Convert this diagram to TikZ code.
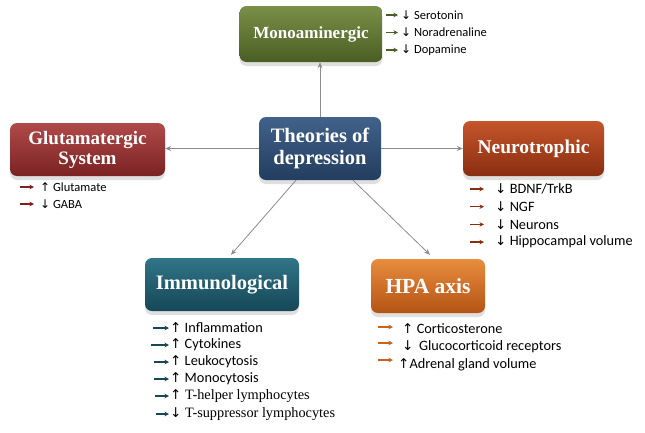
\documentclass[tikz,border=0pt]{standalone}
\usepackage{fontspec}
\setmainfont{Carlito}
\newfontfamily\titlefont{Liberation Serif}
\newfontfamily\symfont{DejaVu Sans}
\usetikzlibrary{arrows.meta,shadows}
\definecolor{monoT}{HTML}{7A8F47}\definecolor{monoB}{HTML}{4A5E24}
\definecolor{glutT}{HTML}{B04A4A}\definecolor{glutB}{HTML}{7A2222}
\definecolor{theoT}{HTML}{42628A}\definecolor{theoB}{HTML}{223D5E}
\definecolor{neurT}{HTML}{C4552C}\definecolor{neurB}{HTML}{8A2E10}
\definecolor{immT}{HTML}{307588}\definecolor{immB}{HTML}{164756}
\definecolor{hpaT}{HTML}{E88D3E}\definecolor{hpaB}{HTML}{B45314}
\definecolor{conn}{HTML}{8C8C8C}
\newcommand{\tf}[1]{\titlefont\bfseries\fontsize{#1}{#1}\selectfont}
\tikzset{
  theory/.style={rounded corners=7pt, text=white, align=center,
    font=\tf{17},
    drop shadow={shadow xshift=0pt, shadow yshift=-4pt, opacity=0.25}},
  link/.style={draw=conn, line width=0.8pt, -{Stealth[length=6pt,width=5pt]}},
  item/.style={anchor=west, inner sep=0pt, font=\fontsize{12.5}{14}\selectfont, text=black},
  bigitem/.style={item, font=\fontsize{14.3}{16}\selectfont},
  itemserif/.style={item, font=\titlefont\fontsize{14.3}{16}\selectfont},
  bullet/.style={line width=1.4pt, -{Stealth[length=4.5pt,width=4.5pt]}},
}
\newcommand{\dn}{{\symfont\fontsize{12}{12}\selectfont ↓}}
\newcommand{\up}{{\symfont\fontsize{12}{12}\selectfont ↑}}
\newcommand{\Dn}{{\symfont\fontsize{13.5}{12}\selectfont ↓}}
\newcommand{\Up}{{\symfont\fontsize{13.5}{12}\selectfont ↑}}
\begin{document}
\begin{tikzpicture}[x=1pt,y=-1pt]
\useasboundingbox (0,0) rectangle (645,432);
% boxes
\node[theory, top color=monoT, bottom color=monoB, minimum width=143pt, minimum height=56pt] (mono) at (311,34) {Monoaminergic};
\node[theory, font=\tf{19}, top color=glutT, bottom color=glutB, minimum width=155pt, minimum height=53pt] (glut) at (87.5,149.5) {Glutamatergic\\[1pt]System};
\node[theory, font=\tf{20.5}, top color=theoT, bottom color=theoB, minimum width=122pt, minimum height=63pt] (theo) at (320,148.5) {Theories of\\[1pt]depression};
\node[theory, font=\tf{19.5}, top color=neurT, bottom color=neurB, minimum width=141pt, minimum height=55pt] (neur) at (533.5,148.5) {Neurotrophic};
\node[theory, font=\tf{20.5}, top color=immT, bottom color=immB, minimum width=154pt, minimum height=53pt] (imm) at (222,284.5) {Immunological};
\node[theory, font=\tf{21.5}, top color=hpaT, bottom color=hpaB, minimum width=114pt, minimum height=54pt] (hpa) at (428,286) {HPA axis};
% connectors
\draw[link] (theo.north) -- (theo.north |- mono.south);
\draw[link] (theo.west) -- (glut.east |- theo.west);
\draw[link] (theo.east) -- (neur.west |- theo.east);
\draw[link] ([xshift=-24pt]theo.south) -- ([xshift=9pt,yshift=3pt]imm.north);
\draw[link] ([xshift=33pt]theo.south) -- ([xshift=2pt,yshift=4pt]hpa.north);
% monoaminergic list
\foreach \t [count=\i] in {Serotonin,Noradrenaline,Dopamine}{
  \node[item] (m\i) at (401,{15+17.5*(\i-1)}) {\dn\ \t};
  \coordinate (ms\i) at (386,{15+17.5*(\i-1)});
  \draw[bullet, draw=monoB, fill=monoB] (ms\i) -- ++(12,0);
}
% glutamatergic list
\node[item] (g1) at (40,187) {\up\ Glutamate};
\node[item] (g2) at (40,204) {\dn\ GABA};
\foreach \i in {1,2}{
  \coordinate (gs\i) at (g\i.west);
  \draw[bullet, draw=glutB, fill=glutB] ([xshift=-20pt]gs\i) -- ([xshift=-6pt]gs\i);
}
% neurotrophic list
\foreach \t [count=\i] in {BDNF/TrkB,NGF,Neurons,Hippocampal volume}{
  \node[bigitem] (n\i) at (495,{189+17.7*(\i-1)}) {\Dn\ \t};
  \coordinate (ns\i) at (470,{189+17.7*(\i-1)});
  \draw[bullet, draw=neurB, fill=neurB] (ns\i) -- ++(14,0);
}
% immunological list
\node[bigitem] (i1) at (170,328) {\Up\ Inflammation};
\node[bigitem] (i2) at (170,345) {\Up\ Cytokines};
\node[bigitem] (i3) at (170,362) {\Up\ Leukocytosis};
\node[bigitem] (i4) at (170,379) {\Up\ Monocytosis};
\node[itemserif] (i5) at (170,396) {\Up\ T-helper lymphocytes};
\node[itemserif] (i6) at (170,414) {\Dn\ T-suppressor lymphocytes};
\foreach \i/\s in {1/-17,2/-19,3/-16,4/-16,5/-15,6/-14}{
  \draw[bullet, draw=immB, fill=immB] ([xshift=\s pt]i\i.west) -- ([xshift=-1pt]i\i.west);
}
% HPA list
\node[bigitem] (h1) at (402,329) {\Up\ Corticosterone};
\node[bigitem] (h2) at (402,347) {\Dn\ \,Glucocorticoid receptors};
\node[bigitem] (h3) at (398,365) {\Up Adrenal gland volume};
\foreach \i/\y in {1/327,2/343,3/360}{
  \coordinate (hs\i) at (378,\y);
  \draw[bullet, draw=hpaB!70!hpaT, fill=hpaB!70!hpaT] (hs\i) -- ++(15,0);
}
\end{tikzpicture}
\end{document}
